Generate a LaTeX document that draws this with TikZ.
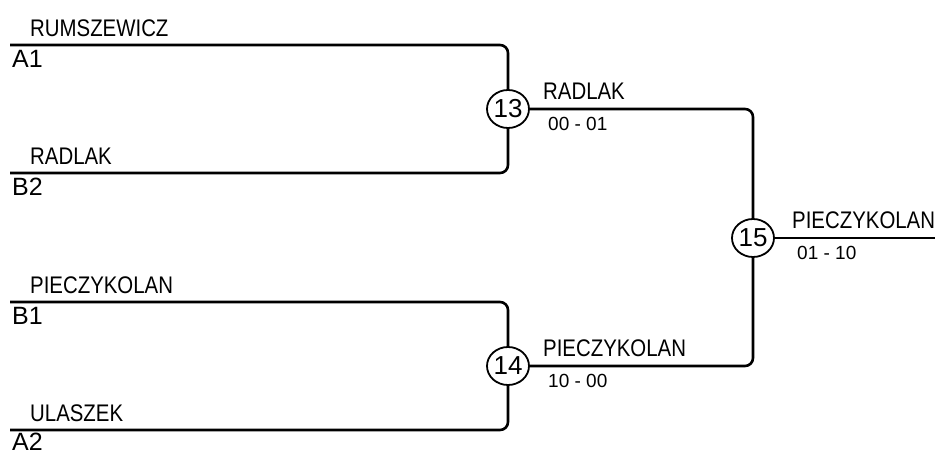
\documentclass[tikz,border=0pt]{standalone}
\usepackage{fontspec}
\setmainfont{Liberation Sans}
\newfontfamily\namefont[FakeStretch=0.85]{Liberation Sans}
\usetikzlibrary{positioning, calc, shapes.geometric}

\begin{document}
\begin{tikzpicture}[
    x=1pt, y=-1pt,
    match/.style={draw, ellipse, line width=1.8pt, fill=white, minimum width=42pt, minimum height=38pt, inner sep=0pt, font=\fontsize{26}{26}\selectfont},
    player/.style={anchor=base west, inner sep=0pt, font=\namefont\fontsize{24}{24}\selectfont},
    seed/.style={anchor=north west, inner sep=0pt, font=\fontsize{25}{25}\selectfont},
    score/.style={anchor=north west, inner sep=0pt, font=\fontsize{19}{19}\selectfont},
    link/.style={line width=2.6pt, rounded corners=8pt}
]
    \useasboundingbox (0,0) rectangle (935,455);

    % line starts
    \coordinate (a1) at (10,45);
    \coordinate (b2) at (10,173);
    \coordinate (b1) at (10,302);
    \coordinate (a2) at (10,430);
    \coordinate (final) at (935,238);

    % matches
    \node[match] (m13) at (508,109) {13};
    \node[match] (m14) at (508,366) {14};
    \node[match] (m15) at (753,238) {15};

    \draw[link] (a1) -| (m13);
    \draw[link] (b2) -| (m13);
    \draw[link] (b1) -| (m14);
    \draw[link] (a2) -| (m14);
    \draw[link] (m13) -| (m15);
    \draw[link] (m14) -| (m15);
    \draw[link] (m15) -- (final);

    % players and seeds
    \node[player] (p-a1) at ($(a1)+(20,-9)$) {RUMSZEWICZ};
    \node[seed] (s-a1) at ($(a1)+(2,5)$) {A1};
    \node[player] (p-b2) at ($(b2)+(20,-9)$) {RADLAK};
    \node[seed] (s-b2) at ($(b2)+(2,5)$) {B2};
    \node[player] (p-b1) at ($(b1)+(20,-9)$) {PIECZYKOLAN};
    \node[seed] (s-b1) at ($(b1)+(2,5)$) {B1};
    \node[player] (p-a2) at ($(a2)+(20,-9)$) {ULASZEK};
    \node[seed] (s-a2) at ($(a2)+(2,3)$) {A2};

    % winners and scores
    \node[player] (w13) at ($(m13)+(35,-10)$) {RADLAK};
    \node[score] (r13) at ($(m13)+(40,8)$) {00 - 01};
    \node[player] (w14) at ($(m14)+(35,-10)$) {PIECZYKOLAN};
    \node[score] (r14) at ($(m14)+(40,8)$) {10 - 00};
    \node[player] (w15) at ($(m15)+(39,-10)$) {PIECZYKOLAN};
    \node[score] (r15) at ($(m15)+(44,8)$) {01 - 10};
\end{tikzpicture}
\end{document}
